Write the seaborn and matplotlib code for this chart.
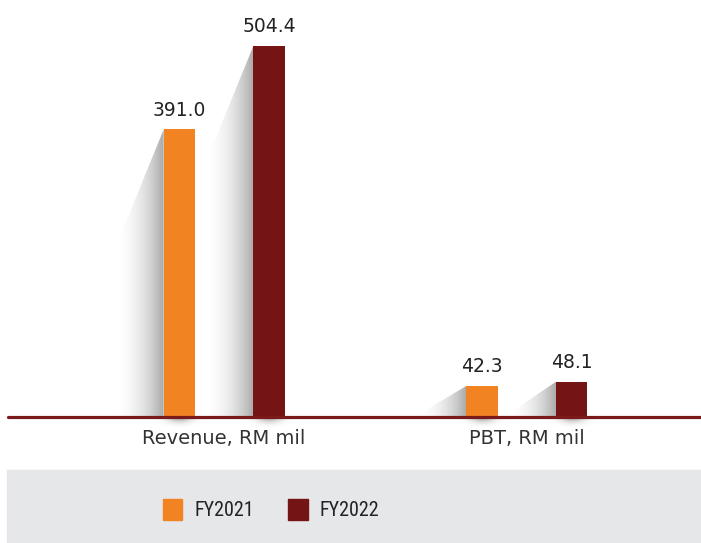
import numpy as np
import pandas as pd
import matplotlib
matplotlib.use('Agg')
import matplotlib.pyplot as plt
from matplotlib.patches import Rectangle, Polygon
import seaborn as sns

# data
categories = ['Revenue, RM mil', 'PBT, RM mil']
years = ['FY2021', 'FY2022']
fy2021 = [391.0, 42.3]
fy2022 = [504.4, 48.1]

colors = ['#f28322', '#741414']
line_color = '#7a1a1a'

df = pd.DataFrame({
    'metric': categories * 2,
    'year': [years[0]] * 2 + [years[1]] * 2,
    'value': fy2021 + fy2022,
})

sns.set_style('white')
plt.rcParams['font.family'] = ['DejaVu Sans']

fig = plt.figure(figsize=(7.01, 5.43), dpi=100)
ax = fig.add_axes([8 / 701, 1 - 417 / 543, 1 - 8 / 701, 417 / 543])

sns.barplot(data=df, x='metric', y='value', hue='year', palette=colors,
            width=0.592, gap=0.65, saturation=1, linewidth=0, ax=ax, zorder=3)
ax.legend_.remove()

ax.set_xlim(-0.714, 1.575)
ax.set_ylim(0, 567)

# soft shadows to the left of each bar
px_x = 1 / 301.0
px_y = 1 / 0.7355
sw = 52 * px_x
grad = np.linspace(0, 1, 64) ** 2.2
img = np.zeros((1, 64, 4))
img[..., 3] = 0.34 * grad
for bar in ax.patches:
    x0 = bar.get_x()
    h = bar.get_height()
    drop = min(h, 128 * px_y)
    poly = Polygon([(x0, h), (x0 - sw, h - drop), (x0 - sw, 0), (x0, 0)],
                   closed=True, facecolor='none', edgecolor='none')
    ax.add_patch(poly)
    im = ax.imshow(img, extent=(x0 - sw, x0, 0, h), aspect='auto',
                   interpolation='bilinear', zorder=2)
    im.set_clip_path(poly)
    # dark blur just below the bar on the baseline
    w = bar.get_width()
    gx = np.exp(-np.linspace(-2, 2, 32) ** 2)
    gy = np.linspace(1, 0, 16) ** 2
    vimg = np.zeros((16, 32, 4))
    vimg[..., 3] = 0.4 * np.outer(gy, gx)
    ax.imshow(vimg, extent=(x0 - 0.3 * w, x0 + 1.3 * w, -12 * px_y, 0),
              aspect='auto', interpolation='bilinear', zorder=2, clip_on=False)

ax.set_xlim(-0.714, 1.575)
ax.set_ylim(0, 567)

for cont in ax.containers:
    ax.bar_label(cont, fmt='%.1f', padding=7, fontsize=13.5, color='#222222')

ax.axhline(0, color=line_color, lw=2.3, zorder=5, clip_on=False)

for s in ax.spines.values():
    s.set_visible(False)
ax.set_yticks([])
ax.set_xlabel('')
ax.set_ylabel('')
ax.tick_params(axis='x', length=0, pad=9, labelsize=14, labelcolor='#333333')

# legend panel
fig.patches.append(Rectangle((7 / 701, 0), 1 - 7 / 701, 73 / 543,
                             transform=fig.transFigure, color='#e6e7e9', zorder=0))
handles = [Rectangle((0, 0), 1, 1, color=c) for c in colors]
fig.legend(handles, years, loc='center', bbox_to_anchor=(0.387, 0.061),
           ncol=2, frameon=False, handlelength=0.95, handleheight=1.2,
           handletextpad=0.6, columnspacing=1.7, labelcolor='#222222',
           prop={'family': ['Roboto Condensed', 'Roboto', 'DejaVu Sans'], 'size': 14.5})

fig.savefig('out.png', dpi=100)
